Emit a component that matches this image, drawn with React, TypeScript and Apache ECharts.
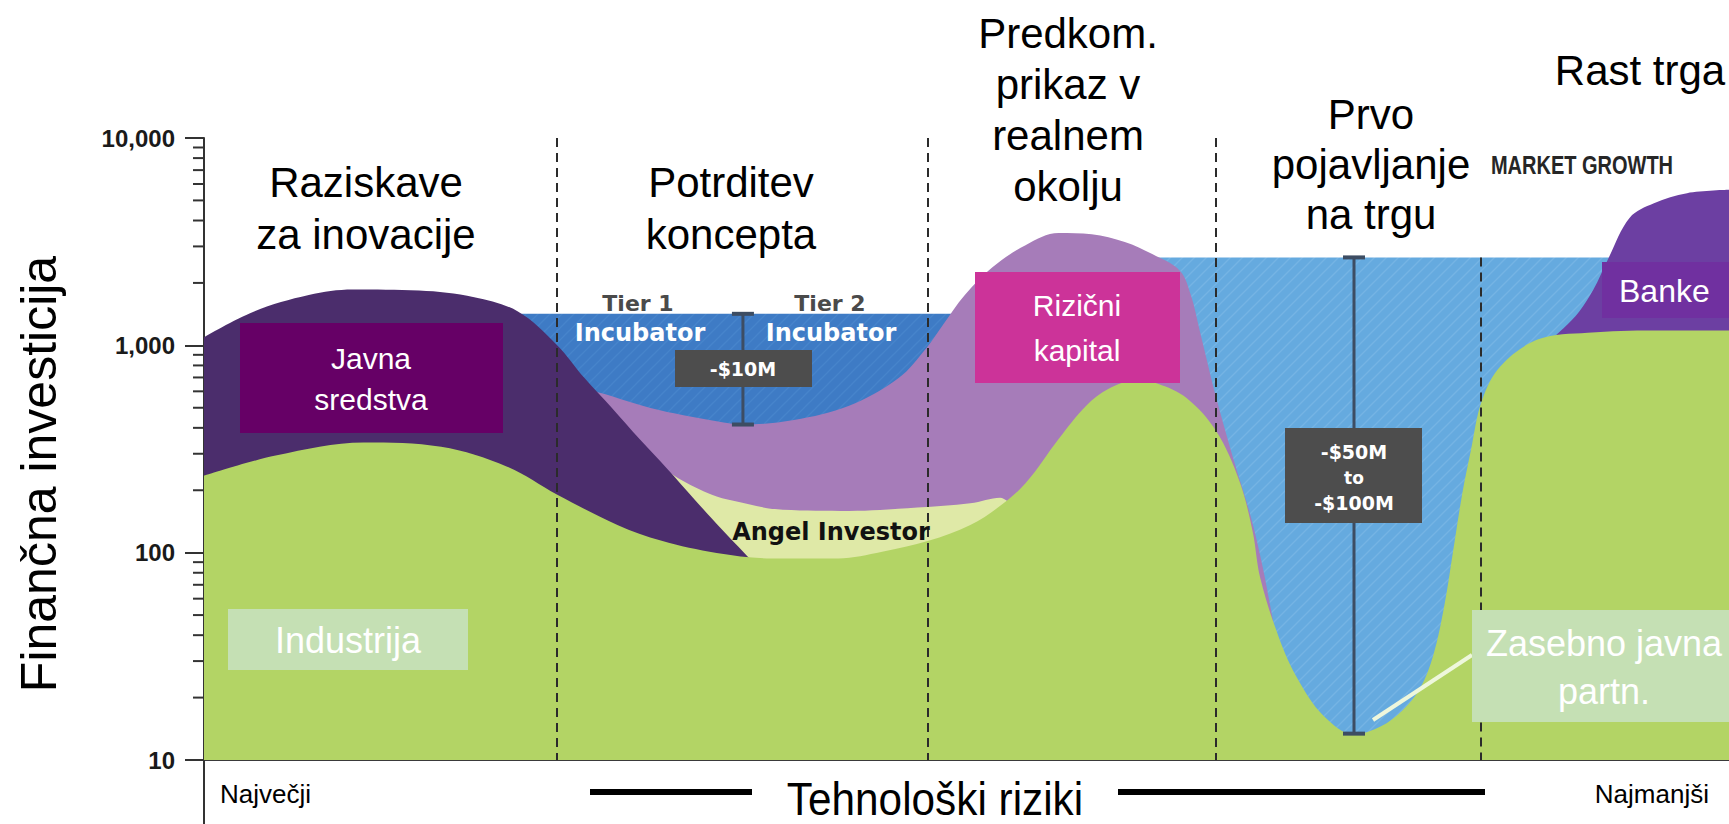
import React, { useEffect, useRef } from "react";
import * as echarts from "echarts";

// ---- axis ticks (log scale, millions of dollars) ----
const yTickValues = [10, 100, 1000, 10000];
const minorTickValues = [
  20, 30, 40, 50, 60, 70, 80, 90,
  200, 300, 400, 500, 600, 700, 800, 900,
  2000, 3000, 4000, 5000, 6000, 7000, 8000, 9000,
];

// ---- stage boundaries along the technology-risk axis (0 = largest risk, 100 = smallest) ----
const stageBounds = [23.15, 47.48, 66.36, 83.74];
const stageBoundTops = [10000, 10000, 10000, 2655];

// ---- funding layers: [risk position, investment] ----
const incubatorGap = [[19.9, 1419], [49.9, 1419]];
const marketGap = [[62.5, 2655], [100, 2655]];

const ventureCapital = [
  [18.44, 695], [22.78, 638], [25.31, 607], [29.28, 499], [33.62, 430], [35.43, 415],
  [38.68, 436], [42.3, 511], [45.55, 695], [47.36, 968], [48.45, 1254], [49.89, 1747],
  [51.7, 2377], [53.87, 3040], [56.04, 3478], [58.21, 3437], [60.38, 3153], [62.18, 2754],
  [63.99, 2291], [64.71, 1747], [65.29, 1180], [66.38, 557], [67.61, 266], [68.62, 151],
  [69.41, 86], [70.5, 33], [71.95, 10],
];

const banks = [
  [87.49, 944], [89.15, 1208], [90.17, 1453], [91.11, 1858], [92.05, 2590],
  [93.49, 4130], [95.08, 4849], [97.25, 5420], [100, 5623],
];

const angelInvestor = [
  [26.39, 376], [28.13, 333], [30.01, 260], [31.45, 221], [33.26, 191], [34.71, 178],
  [37.96, 161], [42.3, 159], [46.78, 165], [50.25, 173], [52.2, 184], [53.51, 150],
];

const publicFunds = [
  [0, 1095], [3.25, 1453], [6.87, 1747], [9.76, 1858], [14.1, 1836], [17.72, 1706],
  [20.61, 1453], [23.14, 1005], [24.95, 695], [26.75, 499], [28.56, 353], [30.37, 254],
  [32.18, 180], [33.98, 129], [35.43, 99.6], [36.88, 76],
];

const industry = [
  [0, 235], [4.7, 294], [10.48, 340], [15.55, 324], [19.88, 260], [23.14, 191],
  [27.11, 136], [30.01, 114], [33.62, 99.6], [37.24, 93.8], [41.58, 93.8], [44.47, 101],
  [47.51, 114], [50.25, 136], [52.06, 165], [53.87, 216], [56.04, 353], [57.85, 511],
  [59.29, 615], [61.1, 678], [62.55, 653], [64.43, 557], [66.38, 385], [67.9, 221],
  [68.76, 127], [69.27, 75.1], [70.5, 38.7], [71.73, 24.5], [73.39, 16.4], [75.42, 13.3],
  [77.15, 14.5], [78.6, 17.4], [79.75, 22.2], [80.62, 32.2], [81.34, 55.9], [81.92, 103],
  [82.5, 191], [83.08, 313], [83.8, 543], [85.03, 796], [87.49, 1069], [90.74, 1151],
  [95.08, 1180], [100, 1180],
];

// funding gaps: [position, top], [position, bottom]
const gapTier = [[35.34, 1419], [35.34, 415]];
const gapMarket = [[75.41, 2655], [75.41, 13.4]];

// ---- texts ----
const stageTitles = [
  ["Raziskave", "za inovacije"],
  ["Potrditev", "koncepta"],
  ["Predkom.", "prikaz v", "realnem", "okolju"],
  ["Prvo", "pojavljanje", "na trgu"],
  ["Rast trga"],
];
const yAxisTitle = "Finančna investicija";
const xAxisTitle = "Tehnološki riziki";

const SANS = "'Liberation Sans', Arial, sans-serif";
const GEO = "'DejaVu Sans', sans-serif";

function hatch(base: string, stripe: string) {
  const c = document.createElement("canvas");
  c.width = 12;
  c.height = 12;
  const ctx = c.getContext("2d")!;
  ctx.fillStyle = base;
  ctx.fillRect(0, 0, 12, 12);
  ctx.strokeStyle = stripe;
  ctx.lineWidth = 1.4;
  ctx.beginPath();
  ctx.moveTo(0, 12); ctx.lineTo(12, 0);
  ctx.moveTo(-6, 6); ctx.lineTo(6, -6);
  ctx.moveTo(6, 18); ctx.lineTo(18, 6);
  ctx.stroke();
  return { image: c, repeat: "repeat" };
}

function area(name: string, data: number[][], color: any, extra: any = {}) {
  return {
    name,
    type: "line",
    data,
    smooth: 0.35,
    symbol: "none",
    lineStyle: { width: 0 },
    areaStyle: { color, opacity: 1, origin: "start" },
    silent: true,
    ...extra,
  };
}

function gapSeries(name: string, data: number[][]) {
  const c = "#3d4d63";
  return {
    name,
    type: "line",
    data,
    silent: true,
    z: 5,
    symbol: "rect",
    symbolSize: [22, 4],
    showSymbol: true,
    itemStyle: { color: c },
    lineStyle: { color: c, width: 3 },
  };
}

function txt(text: string, x: number, y: number, size: number, fill: string, opts: any = {}) {
  return {
    type: "text",
    x,
    y,
    z: 100,
    silent: true,
    rotation: opts.rotation || 0,
    scaleX: opts.scaleX || 1,
    style: {
      text,
      fill,
      fontSize: size,
      fontFamily: opts.family || SANS,
      fontWeight: opts.weight || "normal",
      align: opts.align || "center",
      verticalAlign: "middle",
    },
  };
}

function box(x: number, y: number, w: number, h: number, fill: string) {
  return { type: "rect", z: 99, silent: true, shape: { x, y, width: w, height: h }, style: { fill } };
}

function seg(x1: number, y1: number, x2: number, y2: number, stroke: string, lw: number, z = 98) {
  return { type: "line", z, silent: true, shape: { x1, y1, x2, y2 }, style: { stroke, lineWidth: lw } };
}

export default function App() {
  const ref = useRef<HTMLDivElement>(null);

  useEffect(() => {
    if (!ref.current) return;
    const chart = echarts.init(ref.current, undefined, { renderer: "svg" });

    const titleX = [366, 731, 1068, 1371, 1640];
    const titleY0 = [182, 182, 33, 114, 70];
    const titleGap = [52, 52, 51, 50, 0];
    const titleEls: any[] = [];
    stageTitles.forEach((lines, i) => {
      lines.forEach((l, j) => {
        titleEls.push(txt(l, titleX[i], titleY0[i] + j * titleGap[i], 42, "#000"));
      });
    });

    const graphic: any[] = [
      seg(204, 760, 204, 824, "#333", 2),
      ...titleEls,
      txt(yAxisTitle, 39, 474, 50, "#000", { rotation: Math.PI / 2 }),
      txt("Največji", 220, 794, 26, "#000", { align: "left" }),
      txt("Najmanjši", 1709, 794, 26, "#000", { align: "right" }),
      txt(xAxisTitle, 935, 799, 46, "#000", { scaleX: 0.92 }),
      seg(590, 792, 752, 792, "#000", 6),
      seg(1118, 792, 1485, 792, "#000", 6),
      // public funds label
      box(240, 323, 263, 110, "#660066"),
      txt("Javna", 371, 358, 30, "#fff"),
      txt("sredstva", 371, 399, 30, "#fff"),
      // industry label
      box(228, 609, 240, 61, "#c5e0b4"),
      txt("Industrija", 348, 640, 36, "#fff"),
      // venture capital label
      box(975, 272, 205, 111, "#cc3399"),
      txt("Rizični", 1077, 305, 30, "#fff"),
      txt("kapital", 1077, 350, 30, "#fff"),
      // banks label
      box(1602, 262, 127, 56, "#7030a0"),
      txt("Banke", 1619, 291, 32, "#fff", { align: "left" }),
      // PPP label
      seg(1472, 655, 1373, 720, "#eef7dc", 4),
      box(1472, 610, 257, 112, "#c5e0b4"),
      txt("Zasebno javna", 1604, 643, 36, "#fff"),
      txt("partn.", 1604, 691, 36, "#fff"),
      // market growth
      txt("MARKET GROWTH", 1582, 166, 25, "#262626", { weight: "bold", scaleX: 0.8 }),
      // incubators
      txt("Tier 1", 638, 303, 22, "#4a4a4a", { family: GEO, weight: "bold" }),
      txt("Tier 2", 830, 303, 22, "#4a4a4a", { family: GEO, weight: "bold" }),
      txt("Incubator", 640, 333, 24, "#fff", { family: GEO, weight: "bold" }),
      txt("Incubator", 831, 333, 24, "#fff", { family: GEO, weight: "bold" }),
      box(675, 350, 137, 37, "#4d4d4d"),
      txt("-$10M", 743, 369, 19, "#fff", { family: GEO, weight: "bold" }),
      txt("Angel Investor", 831, 532, 24, "#111", { family: GEO, weight: "bold" }),
      box(1285, 428, 137, 95, "#4d4d4d"),
      txt("-$50M", 1354, 452, 19, "#fff", { family: GEO, weight: "bold" }),
      txt("to", 1354, 478, 17, "#fff", { family: GEO, weight: "bold" }),
      txt("-$100M", 1354, 503, 19, "#fff", { family: GEO, weight: "bold" }),
    ];

    const option: any = {
      animation: false,
      backgroundColor: "#ffffff",
      grid: { left: 204, right: 0, top: 138, bottom: 64 },
      xAxis: {
        type: "value",
        min: 0,
        max: 100,
        axisLine: { show: true, onZero: false, lineStyle: { color: "#3a3a3a", width: 2 } },
        axisTick: { show: false },
        axisLabel: { show: false },
        splitLine: { show: false },
      },
      yAxis: {
        type: "log",
        logBase: 10,
        min: 10,
        max: 10000,
        axisLine: { show: true, lineStyle: { color: "#333", width: 2 } },
        axisTick: { show: true, length: 19, lineStyle: { color: "#333", width: 2 } },
        axisLabel: {
          margin: 29,
          color: "#1a1a1a",
          fontFamily: SANS,
          fontWeight: "bold",
          fontSize: 24,
          formatter: (v: number) =>
            yTickValues.includes(Math.round(v)) ? Math.round(v).toLocaleString("en-US") : "",
        },
        splitLine: { show: false },
      },
      graphic,
      series: [
        area("incubatorGap", incubatorGap, hatch("#3e7bc5", "#4784cb"), { smooth: false }),
        area("marketGap", marketGap, hatch("#65aadf", "#75b4e4"), { smooth: false }),
        area("ventureCapital", ventureCapital, "#a67cb9"),
        area("banks", banks, "#6c3fa2"),
        area("angelInvestor", angelInvestor, "#dfe9a7"),
        area("publicFunds", publicFunds, "#4b2d6c"),
        area("industry", industry, "#b3d465", {
          markLine: {
            silent: true,
            symbol: ["none", "none"],
            label: { show: false },
            lineStyle: { color: "#2b2b2b", type: [9, 6], width: 2 },
            data: stageBounds.map((x, i) => [
              { coord: [x, stageBoundTops[i]] },
              { coord: [x, 10] },
            ]),
          },
        }),
        gapSeries("gapTier", gapTier),
        gapSeries("gapMarket", gapMarket),
        {
          name: "minorTicks",
          type: "custom",
          silent: true,
          clip: false,
          encode: { x: 0, y: 1 },
          data: minorTickValues.map((v) => [0, v]),
          renderItem: (params: any, api: any) => {
            const p = api.coord([0, api.value(1)]);
            return {
              type: "line",
              shape: { x1: p[0] - 11, y1: p[1], x2: p[0], y2: p[1] },
              style: { stroke: "#333", lineWidth: 2 },
            };
          },
        },
      ],
    };

    chart.setOption(option);
    return () => chart.dispose();
  }, []);

  return (
    <div
      ref={ref}
      style={{ position: "fixed", left: 0, top: 0, width: 1729, height: 824, background: "#fff" }}
    />
  );
}
